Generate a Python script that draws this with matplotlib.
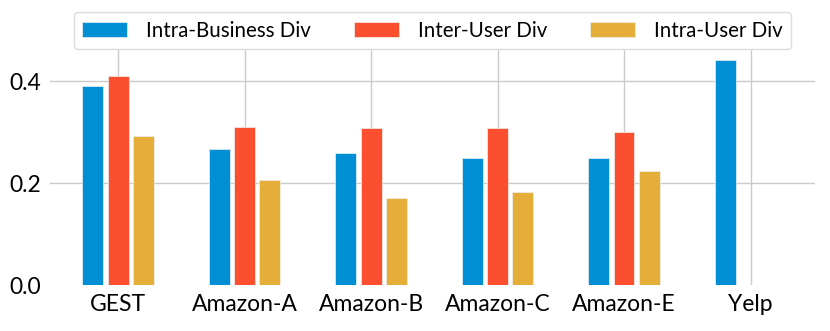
import numpy as np
import matplotlib
matplotlib.use('Agg')
import matplotlib.pyplot as plt

datasets = ['GEST', 'Amazon-A', 'Amazon-B', 'Amazon-C', 'Amazon-E', 'Yelp']
intra_business = [0.391, 0.267, 0.259, 0.249, 0.250, 0.442]
inter_user = [0.410, 0.310, 0.308, 0.308, 0.300, 0.0]
intra_user = [0.293, 0.206, 0.171, 0.184, 0.224, 0.0]

series = [
    ('Intra-Business Div', intra_business, '#008fd5'),
    ('Inter-User Div', inter_user, '#fc4f30'),
    ('Intra-User Div', intra_user, '#e5ae38'),
]

plt.rcParams['font.family'] = ['Lato', 'DejaVu Sans']
plt.rcParams['font.size'] = 15

fig = plt.figure(figsize=(8.3, 3.31), dpi=100)
ax = fig.add_axes([0.06, 0.138, 0.922, 0.77])

x = np.arange(len(datasets))
width = 0.165
for i, (label, vals, color) in enumerate(series):
    ax.bar(x + (i - 1) * 0.2, vals, width, label=label, color=color,
           edgecolor='#f0f0f0', linewidth=0.5, zorder=3)

ax.set_xticks(x)
ax.set_xticklabels(datasets, fontsize=16.5)
ax.set_yticks([0.0, 0.2, 0.4])
ax.set_yticklabels(['0.0', '0.2', '0.4'], fontsize=16.5)
ax.set_ylim(0, 0.5)
ax.set_xlim(-0.54, 5.51)

ax.grid(True, color='#cbcbcb', linewidth=1.0, zorder=0)
ax.yaxis.get_gridlines()[0].set_visible(False)
ax.tick_params(length=0, pad=6)
for s in ax.spines.values():
    s.set_visible(False)

leg = ax.legend(loc='upper center', bbox_to_anchor=(0.521, 0.964),
                bbox_transform=fig.transFigure, ncol=3, fontsize=14.8,
                handlelength=2.2, handleheight=0.75, handletextpad=0.9,
                columnspacing=2.1, borderpad=0.42, borderaxespad=0,
                framealpha=1.0, edgecolor='#dddddd', fancybox=True)

fig.savefig('out.png', dpi=100)
